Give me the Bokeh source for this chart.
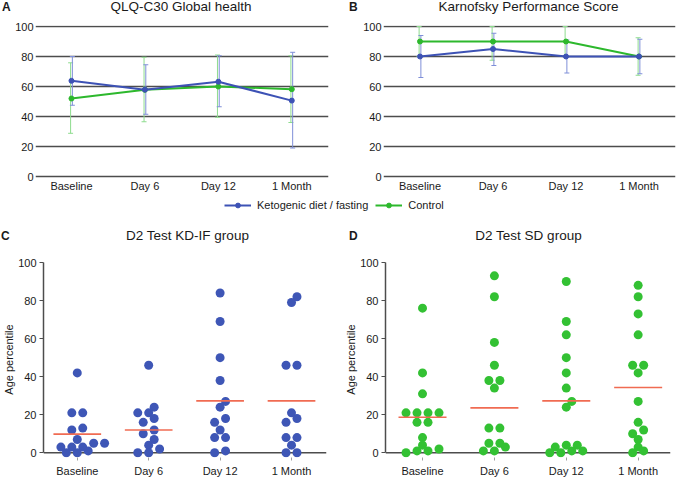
import numpy as np
from bokeh.plotting import figure
from bokeh.models import (Range1d, FixedTicker, Span, Whisker, ColumnDataSource,
                          TeeHead, Legend, LegendItem, Div)
from bokeh.layouts import column, row
from bokeh.embed import file_html
from bokeh.resources import INLINE

# ---------------- data ----------------
CATEGORIES = ["Baseline", "Day 6", "Day 12", "1 Month"]
Y_TICKS = [0, 20, 40, 60, 80, 100]

# A: QLQ-C30 global health (mean, lower, upper)
qlq_kd_mean = [63.8, 57.9, 63.2, 50.6]
qlq_kd_low = [47.5, 41.5, 46.5, 19.0]
qlq_kd_high = [80.0, 74.5, 80.5, 82.8]
qlq_ctrl_mean = [52.0, 57.8, 60.0, 58.2]
qlq_ctrl_low = [28.8, 36.5, 39.5, 36.0]
qlq_ctrl_high = [75.8, 79.5, 81.0, 80.5]

# B: Karnofsky performance score
kps_kd_mean = [80, 85, 80, 80]
kps_kd_low = [66, 74, 69, 68.5]
kps_kd_high = [94, 95.5, 91, 91.5]
kps_ctrl_mean = [90, 90, 90, 80]
kps_ctrl_low = [80, 77.5, 80, 67.5]
kps_ctrl_high = [100, 100, 100, 92.5]

# C: D2 test KD-IF group (age percentile)
kd_baseline = [42, 21, 21, 13, 12, 7, 5, 5, 3, 3, 3, 1, 0, 0]
kd_day6 = [46, 24, 21, 21, 18, 16, 12, 10, 7, 4, 2, 0, 0]
kd_day12 = [84, 69, 50, 38, 27, 24, 18, 16, 12, 8, 8, 1, 0]
kd_month1 = [82, 79, 46, 46, 21, 18, 16, 8, 8, 4, 0, 0]
kd_means = [9.8, 12.0, 27.3, 27.3]

# D: D2 test SD group
sd_baseline = [76, 42, 31, 21, 21, 21, 21, 16, 16, 8, 4, 2, 1, 1, 0]
sd_day6 = [93, 82, 58, 46, 38, 38, 34, 13, 13, 5, 5, 3, 1, 1]
sd_day12 = [90, 69, 62, 50, 42, 34, 27, 24, 4, 4, 3, 1, 1, 0, 0]
sd_month1 = [88, 82, 73, 62, 46, 46, 42, 27, 16, 12, 10, 7, 3, 1, 0]
sd_means = [18.7, 23.6, 27.3, 34.3]

# ---------------- style ----------------
FONT = "Liberation Sans"
BLUE = "#3D52B5"
GREEN = "#2DB82D"
BLUE_DOT = "#3E56B6"
GREEN_DOT = "#33C133"
BLUE_ERR = "#7F8FD8"
GREEN_ERR = "#8EDC8E"
MEAN_RED = "#F06B52"
GRID = "#4D4D4D"
TEXT = "#1A1A1A"

HALF_W = 338
TOP_HEAD_H, TOP_H, LEG_H, BOT_HEAD_H, BOT_H = 18, 177, 25, 24, 235


def make_fig(width, height, xr, yr, borders):
    l, r, t, b = borders
    p = figure(width=width, height=height, x_range=Range1d(*xr), y_range=Range1d(*yr),
               output_backend="svg", toolbar_location=None,
               min_border_left=l, min_border_right=r, min_border_top=t, min_border_bottom=b)
    p.outline_line_color = None
    p.xgrid.visible = False
    p.ygrid.visible = False
    p.xaxis.ticker = FixedTicker(ticks=list(range(len(CATEGORIES))))
    p.xaxis.major_label_overrides = {i: c for i, c in enumerate(CATEGORIES)}
    p.yaxis.ticker = FixedTicker(ticks=Y_TICKS)
    for ax in (p.xaxis[0], p.yaxis[0]):
        ax.minor_tick_line_color = None
        ax.major_label_text_font = FONT
        ax.major_label_text_font_size = "11px"
        ax.major_label_text_color = TEXT
    return p


def header(width, height, letter, letter_left, letter_top, title, title_center, title_top):
    html = (
        f'<div style="position:relative;width:{width}px;height:{height}px;'
        f"font-family:'{FONT}';color:{TEXT};overflow:visible;\">"
        f'<span style="position:absolute;left:{letter_left}px;top:{letter_top}px;'
        f'font-size:12px;font-weight:bold;line-height:1;">{letter}</span>'
        f'<span style="position:absolute;left:{title_center}px;top:{title_top}px;'
        f'transform:translateX(-50%);font-size:13.5px;line-height:1;white-space:nowrap;">'
        f'{title}</span></div>'
    )
    return Div(text=html, width=width, height=height, margin=0)


def line_panel(width, borders, xr, kd, ctrl):
    p = make_fig(width, TOP_H, xr, (-2.0, 100.67), borders)
    p.ygrid.visible = True
    p.ygrid.ticker = FixedTicker(ticks=Y_TICKS)
    p.ygrid.grid_line_color = GRID
    p.ygrid.grid_line_width = 1.4
    p.yaxis.axis_line_color = None
    p.yaxis.major_tick_line_color = None
    p.yaxis.major_tick_out = 0
    p.yaxis.major_tick_in = 0
    p.yaxis.major_label_standoff = 2
    p.xaxis.axis_line_color = None
    p.xaxis.major_tick_line_color = None
    p.xaxis.major_tick_out = 0
    p.xaxis.major_tick_in = 0
    p.xaxis.major_label_standoff = 0
    xs = list(range(len(CATEGORIES)))
    for (mean, low, high), ecol, shift in ((ctrl, GREEN_ERR, -0.012), (kd, BLUE_ERR, 0.012)):
        src = ColumnDataSource(dict(x=[x + shift for x in xs], lo=low, hi=high))
        p.add_layout(Whisker(source=src, base="x", lower="lo", upper="hi",
                             line_color=ecol, line_width=1,
                             lower_head=TeeHead(size=5, line_color=ecol, line_width=1),
                             upper_head=TeeHead(size=5, line_color=ecol, line_width=1)))
    for (mean, low, high), col in ((ctrl, GREEN), (kd, BLUE)):
        p.line(xs, mean, line_color=col, line_width=2)
        p.scatter(xs, mean, size=5, fill_color=col, line_color=col)
    return p


def swarm_offsets(values, px_x, px_y, step_px=11.0, row_span=2.5, min_px=6.0):
    """Row-binned beeswarm: close values share a row; rows shift by half steps to avoid overlap."""
    order = sorted(range(len(values)), key=lambda i: values[i])
    rows = []
    for i in order:
        if rows and values[i] - values[rows[-1][0]] < row_span:
            rows[-1].append(i)
        else:
            rows.append([i])
    placed = []
    offs = [0.0] * len(values)
    for r in rows:
        n = len(r)
        base = [(j - (n - 1) / 2) * step_px for j in range(n)]
        drift = np.mean([q[0] for q in placed]) if placed else 0.0
        s = -1.0 if drift > 0 else 1.0
        chosen, best, best_d = None, None, -1.0
        for shift in (0.0, 0.5 * s, -0.5 * s, s, -s):
            xs = [b + shift * step_px for b in base]
            if placed:
                d = min(np.hypot(x - qx, values[i] * px_y - qy)
                        for x, i in zip(xs, r) for qx, qy in placed)
            else:
                d = np.inf
            if d >= min_px:
                chosen = xs
                break
            if d > best_d:
                best, best_d = xs, d
        if chosen is None:
            chosen = best
        for x, i in zip(chosen, r):
            offs[i] = x / px_x
            placed.append((x, values[i] * px_y))
    return offs


def scatter_panel(width, borders, xr, groups, means, color):
    yr = (-2.47, 100.53)
    p = make_fig(width, BOT_H, xr, yr, borders)
    p.yaxis.axis_label = "Age percentile"
    p.yaxis.axis_label_text_font = FONT
    p.yaxis.axis_label_text_font_size = "11px"
    p.yaxis.axis_label_text_font_style = "normal"
    p.yaxis.axis_label_text_color = TEXT
    p.yaxis.axis_label_standoff = 0
    p.yaxis.axis_line_color = GRID
    p.yaxis.axis_line_width = 1.5
    p.yaxis.bounds = (0, 100)
    p.yaxis.major_tick_line_color = GRID
    p.yaxis.major_tick_line_width = 1.2
    p.yaxis.major_tick_out = 4
    p.yaxis.major_tick_in = 0
    p.yaxis.major_label_standoff = 3
    p.xaxis.axis_line_color = None
    p.xaxis.major_tick_line_color = "#A0A0A0"
    p.xaxis.major_tick_out = 3
    p.xaxis.major_tick_in = 0
    p.xaxis.major_label_standoff = 4
    p.add_layout(Span(location=0, dimension="width", line_color=GRID, line_width=1.5,
                      level="underlay"))
    l, r, t, b = borders
    px_x = (width - l - r) / (xr[1] - xr[0])
    px_y = (BOT_H - t - b) / (yr[1] - yr[0])
    for k, vals in enumerate(groups):
        offs = swarm_offsets(vals, px_x, px_y)
        p.scatter([k + o for o in offs], vals, size=9, fill_color=color, line_color=None)
    ks = list(range(len(means)))
    p.segment(x0=[k - 0.334 for k in ks], x1=[k + 0.334 for k in ks], y0=means, y1=means,
              line_color=MEAN_RED, line_width=1.6)
    return p


pA = line_panel(HALF_W, (35, 10, 7, 16), (-0.49, 3.5),
                (qlq_kd_mean, qlq_kd_low, qlq_kd_high),
                (qlq_ctrl_mean, qlq_ctrl_low, qlq_ctrl_high))
pB = line_panel(HALF_W, (45, 1, 7, 16), (-0.5, 3.5),
                (kps_kd_mean, kps_kd_low, kps_kd_high),
                (kps_ctrl_mean, kps_ctrl_low, kps_ctrl_high))

pC = scatter_panel(HALF_W, (41, 12, 17, 22), (-0.473, 3.49),
                   [kd_baseline, kd_day6, kd_day12, kd_month1], kd_means, BLUE_DOT)
pD = scatter_panel(HALF_W, (47, 6, 17, 22), (-0.515, 3.45),
                   [sd_baseline, sd_day6, sd_day12, sd_month1], sd_means, GREEN_DOT)

hA = header(HALF_W, TOP_HEAD_H, "A", 2, 1, "QLQ-C30 Global health", 181, 0)
hB = header(HALF_W, TOP_HEAD_H, "B", 11, 1, "Karnofsky Performance Score", 190.5, 0)
hC = header(HALF_W, BOT_HEAD_H, "C", 1, 10, "D2 Test KD-IF group", 187.5, 8.5)
hD = header(HALF_W, BOT_HEAD_H, "D", 11, 10, "D2 Test SD group", 190.5, 8.5)

# legend strip (series drawn outside the visible range, used only for legend glyphs)
pl = figure(width=2 * HALF_W, height=LEG_H, x_range=Range1d(-10, -9), y_range=Range1d(-10, -9),
            output_backend="svg", toolbar_location=None, min_border=0,
            x_axis_type=None, y_axis_type=None)
pl.outline_line_color = None
xs_all = list(range(len(CATEGORIES)))
l1 = pl.line(xs_all, qlq_kd_mean, line_color=BLUE, line_width=2)
m1 = pl.scatter(xs_all, qlq_kd_mean, size=6, fill_color=BLUE, line_color=BLUE)
l2 = pl.line(xs_all, qlq_ctrl_mean, line_color=GREEN, line_width=2)
m2 = pl.scatter(xs_all, qlq_ctrl_mean, size=6, fill_color=GREEN, line_color=GREEN)
legend = Legend(items=[LegendItem(label="Ketogenic diet / fasting", renderers=[l1, m1]),
                       LegendItem(label="Control", renderers=[l2, m2])],
                orientation="horizontal", location=(224, 9),
                label_text_font=FONT, label_text_font_size="11px", label_text_color=TEXT,
                label_standoff=6, glyph_width=27, glyph_height=12, label_height=12,
                spacing=7, padding=0, margin=0, border_line_color=None,
                background_fill_alpha=0)
pl.add_layout(legend)

layout = column(row(hA, hB), row(pA, pB), pl, row(hC, hD), row(pC, pD))
open("out.html", "w").write(file_html(layout, INLINE))
